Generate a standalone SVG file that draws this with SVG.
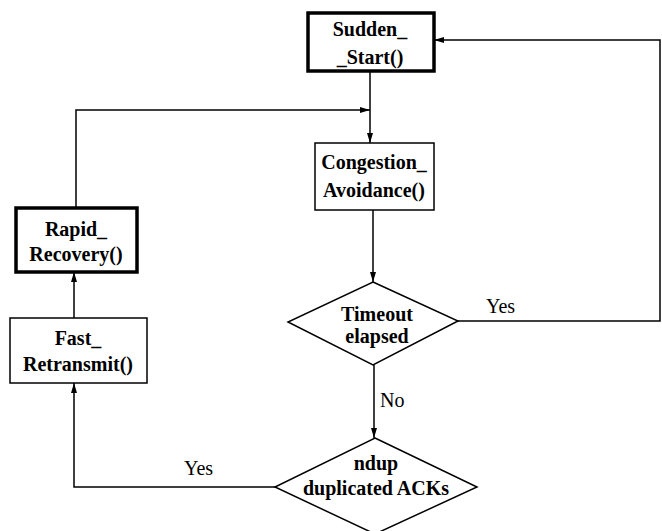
<svg xmlns="http://www.w3.org/2000/svg" width="662" height="531" viewBox="0 0 662 531">
<defs>
<marker id="ah" viewBox="0 0 10 6" refX="10" refY="3" markerWidth="10" markerHeight="6" markerUnits="userSpaceOnUse" orient="auto">
<path d="M0,0 L10,3 L0,6 Z" fill="#000"/>
</marker>
</defs>
<style>
.box{fill:#fff;stroke:#000;stroke-width:1.5}
.thick{fill:#fff;stroke:#000;stroke-width:3.5}
.lbl{font-family:"Liberation Serif","Times New Roman",serif;font-weight:bold;font-size:20px;text-anchor:middle;fill:#000}
.edge{font-family:"Liberation Serif","Times New Roman",serif;font-size:20px;fill:#000}
.con{fill:none;stroke:#000;stroke-width:1.5}
</style>
<rect width="662" height="531" fill="#fff"/>
<g id="connectors">
<path class="con" d="M370,71 V143" marker-end="url(#ah)"/>
<path class="con" d="M76,208 V110 H370" marker-end="url(#ah)"/>
<path class="con" d="M373,210 V282" marker-end="url(#ah)"/>
<path class="con" d="M458,321 H660 V40 H434" marker-end="url(#ah)"/>
<path class="con" d="M374,365 V438" marker-end="url(#ah)"/>
<path class="con" d="M275,487 H74 V383" marker-end="url(#ah)"/>
<path class="con" d="M74,318 V272" marker-end="url(#ah)"/>
<text class="edge" x="486" y="313">Yes</text>
<text class="edge" x="380" y="407">No</text>
<text class="edge" x="184" y="475">Yes</text>
</g>
<g id="sudden_start">
<rect class="thick" x="308" y="13" width="126" height="58"/>
<text class="lbl" x="370" y="36">Sudden_</text>
<text class="lbl" x="370" y="64">_Start()</text>
</g>
<g id="congestion_avoidance">
<rect class="box" x="315" y="143" width="119" height="67"/>
<text class="lbl" x="374" y="169">Congestion_</text>
<text class="lbl" x="374" y="197">Avoidance()</text>
</g>
<g id="rapid_recovery">
<rect class="thick" x="16" y="208" width="121" height="64"/>
<text class="lbl" x="76" y="236">Rapid_</text>
<text class="lbl" x="76" y="261">Recovery()</text>
</g>
<g id="fast_retransmit">
<rect class="box" x="10" y="318" width="137" height="65"/>
<text class="lbl" x="78" y="345">Fast_</text>
<text class="lbl" x="78" y="371">Retransmit()</text>
</g>
<g id="timeout_elapsed">
<polygon class="box" points="373,282 458,321 373,365 288,322"/>
<text class="lbl" x="377" y="321">Timeout</text>
<text class="lbl" x="377" y="343">elapsed</text>
</g>
<g id="ndup_acks">
<polygon class="box" points="375,438 477,487 375,534 275,487"/>
<text class="lbl" x="376" y="470">ndup</text>
<text class="lbl" x="376" y="495">duplicated ACKs</text>
</g>
</svg>
